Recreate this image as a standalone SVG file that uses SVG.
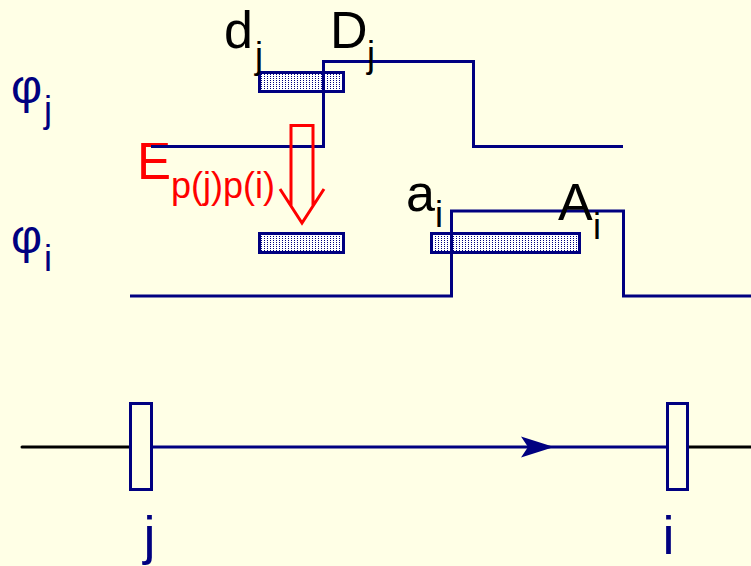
<svg xmlns="http://www.w3.org/2000/svg" width="751" height="566" viewBox="0 0 751 566">
<style>
.nv{stroke:#000080;stroke-width:3;fill:none}
.bk{stroke:#000000;stroke-width:3;fill:none;stroke-linecap:round}
.box{stroke:#000080;stroke-width:3;fill:url(#dots)}
.node{stroke:#000080;stroke-width:3;fill:#FFFFE6}
.t{font-family:"Liberation Sans",Arial,sans-serif}
.big{font-size:52px}
.phi{font-size:48px}
.sub{font-size:36px}
.blue{fill:#000080}
.black{fill:#000000}
.red{fill:#FF0000}
</style>
<defs>
<pattern id="dots" patternUnits="userSpaceOnUse" width="3" height="2">
<rect width="3" height="2" fill="#FFFFFF"/>
<rect width="1" height="1" fill="#000080"/>
</pattern>
</defs>
<rect width="751" height="566" fill="#FFFFE6"/>

<g id="box-dj"><rect class="box" x="259.5" y="72.5" width="84" height="19"/></g>
<g id="box-target"><rect class="box" x="259.5" y="233.5" width="84" height="19"/></g>
<g id="box-ai"><rect class="box" x="431.5" y="233.5" width="148" height="19"/></g>

<g id="label-E" class="t red">
<text class="t" x="137" y="179" font-size="51">E</text>
<text class="t" x="171" y="198" font-size="36">p(j)p(i)</text>
</g>

<g id="signal-j"><path class="nv" d="M151,146.5 H323.5 V61.5 H473.5 V146.5 H623"/></g>
<g id="signal-i"><path class="nv" d="M130,296 H451.5 V211 H623.5 V296 H751"/></g>

<g id="transfer-arrow"><polygon points="291,125.5 313,125.5 313,206 324,189 302,223 280,189 291,206" fill="none" stroke="#FF0000" stroke-width="3"/></g>

<g id="label-phi-j" class="t blue">
<text class="t phi" x="11" y="103">φ</text>
<text class="t sub" x="44" y="122">j</text>
</g>
<g id="label-phi-i" class="t blue">
<text class="t phi" x="11" y="253">φ</text>
<text class="t sub" x="44" y="271">i</text>
</g>

<g id="label-dj" class="black">
<text class="t big" x="224" y="48">d</text>
<text class="t sub" x="255" y="68">j</text>
</g>
<g id="label-Dj" class="black">
<text class="t big" x="330" y="48">D</text>
<text class="t sub" x="367" y="67">j</text>
</g>
<g id="label-ai" class="black">
<text class="t big" x="406" y="211">a</text>
<text class="t sub" x="435" y="227">i</text>
</g>
<g id="label-Ai" class="black">
<text class="t big" x="558" y="220">A</text>
<text class="t sub" x="593" y="239">i</text>
</g>

<g id="connectors">
<line class="bk" x1="22" y1="447" x2="130" y2="447"/>
<line class="nv" x1="152" y1="447" x2="667" y2="447"/>
<line class="bk" x1="688" y1="447" x2="751" y2="447" style="stroke-linecap:butt"/>
<path d="M521,436.5 L554,447 L521,457.5 L528,447 Z" fill="#000080"/>
</g>

<g id="node-j">
<rect class="node" x="130.5" y="403.5" width="21" height="86"/>
<text class="t blue" x="143.5" y="554" font-size="54">j</text>
</g>
<g id="node-i">
<rect class="node" x="667.5" y="403.5" width="20" height="86"/>
<text class="t blue" x="662.5" y="554" font-size="54">i</text>
</g>
</svg>
